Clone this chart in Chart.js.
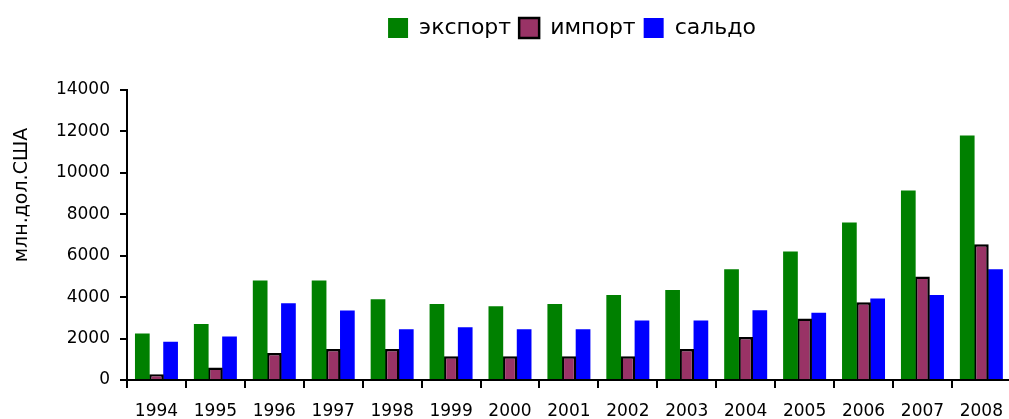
<!DOCTYPE html>
<html>
<head>
<meta charset="utf-8">
<script src="https://cdn.jsdelivr.net/npm/chart.js@4/dist/chart.umd.min.js"></script>
<style>
html,body{margin:0;padding:0;overflow:hidden;background:#fff;}
#wrap{width:1016px;height:419px;position:relative;}
</style>
</head>
<body>
<div id="wrap"><canvas id="c"></canvas></div>
<script>
const years = ['1994','1995','1996','1997','1998','1999','2000','2001','2002','2003','2004','2005','2006','2007','2008'];
const exportVals = [2250, 2700, 4800, 4800, 3900, 3670, 3560, 3670, 4100, 4350, 5350, 6200, 7600, 9150, 11800];
const importVals = [280, 600, 1300, 1500, 1500, 1150, 1150, 1150, 1150, 1500, 2080, 2970, 3750, 5000, 6550];
const saldoVals = [1850, 2100, 3700, 3350, 2450, 2550, 2450, 2450, 2870, 2870, 3370, 3250, 3930, 4100, 5350];
const seriesNames = ['экспорт', 'импорт', 'сальдо'];
const yTitle = 'млн.дол.США';

const FONT = 'DejaVu Sans';

const layoutPlugin = {
  id: 'layoutTweaks',
  beforeInit(chart) {
    const orig = chart.legend.fit;
    chart.legend.fit = function () {
      orig.call(this);
      this.height = 81;
    };
  },
  afterLayout(chart) {
    chart.legend.left += 64;
    chart.legend.right += 64;
  },
  afterDraw(chart) {
    const ctx = chart.ctx;
    ctx.save();
    ctx.translate(22, 195);
    ctx.rotate(-Math.PI / 2);
    ctx.font = '19px "' + FONT + '"';
    ctx.fillStyle = '#000';
    ctx.textAlign = 'center';
    ctx.textBaseline = 'middle';
    ctx.fillText(yTitle, 0, 0);
    ctx.restore();
  }
};

new Chart(document.getElementById('c'), {
  type: 'bar',
  data: {
    labels: years,
    datasets: [
      { label: seriesNames[0], data: exportVals, backgroundColor: '#008000', borderWidth: 0 },
      { label: seriesNames[1], data: importVals, backgroundColor: '#993366', borderColor: '#000', borderWidth: 2.5 },
      { label: seriesNames[2], data: saldoVals, backgroundColor: '#0000FF', borderWidth: 0 }
    ]
  },
  options: {
    responsive: true,
    maintainAspectRatio: false,
    animation: false,
    layout: { padding: { top: 9, left: 0, right: 0, bottom: 0 } },
    datasets: { bar: { categoryPercentage: 0.72, barPercentage: 1.04 } },
    plugins: {
      legend: {
        position: 'top',
        labels: {
          boxWidth: 20, boxHeight: 20, padding: 8,
          color: '#000',
          font: { family: FONT, size: 22 }
        }
      },
      tooltip: { enabled: false },
      title: { display: false }
    },
    scales: {
      x: {
        afterFit(s) { s.height = 39; },
        border: { display: true, color: '#000', width: 2 },
        grid: { display: true, drawOnChartArea: false, drawTicks: true, tickLength: 8, color: '#000', lineWidth: 2, offset: true },
        ticks: { color: '#000', padding: 13, maxRotation: 0, autoSkip: false, font: { family: FONT, size: 17 } }
      },
      y: {
        min: 0, max: 14000,
        afterFit(s) { s.width = 127; },
        border: { display: true, color: '#000', width: 2 },
        grid: { display: true, drawOnChartArea: false, drawTicks: true, tickLength: 7, color: '#000', lineWidth: 2 },
        ticks: { stepSize: 2000, color: '#000', padding: 10, font: { family: FONT, size: 17 }, callback: (v) => String(v) }
      }
    }
  },
  plugins: [layoutPlugin]
});
</script>
</body>
</html>
